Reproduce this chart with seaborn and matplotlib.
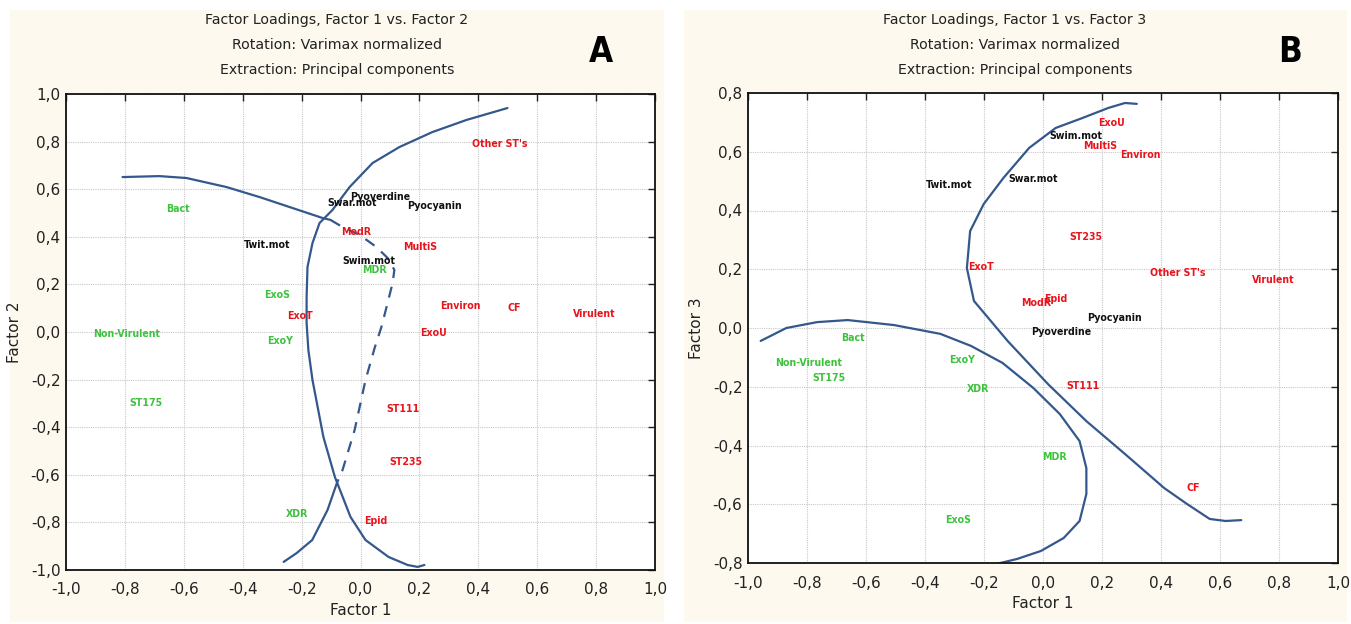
import numpy as np
import pandas as pd
import matplotlib
matplotlib.use("Agg")
import matplotlib.pyplot as plt
import matplotlib.font_manager as fm
import seaborn as sns
from matplotlib.patches import Rectangle

# ---------------- data: panel A (Factor 1 vs Factor 2) ----------------
a_labels = ["Other ST's", "Bact", "Pyoverdine", "Swar.mot", "Pyocyanin", "Twit.mot",
            "ModR", "MultiS", "Swim.mot", "MDR", "ExoS", "Environ", "CF", "Virulent",
            "ExoT", "Non-Virulent", "ExoU", "ExoY", "ST175", "ST111", "ST235", "XDR", "Epid"]
a_f1 = [0.472, -0.621, 0.068, -0.027, 0.251, -0.316, -0.014, 0.204, 0.027, 0.048, -0.285,
        0.340, 0.523, 0.795, -0.207, -0.795, 0.248, -0.272, -0.730, 0.146, 0.153, -0.217, 0.051]
a_f2 = [0.790, 0.517, 0.567, 0.542, 0.529, 0.366, 0.420, 0.357, 0.298, 0.260, 0.155,
        0.109, 0.100, 0.076, 0.067, -0.008, -0.004, -0.038, -0.300, -0.324, -0.546, -0.765, -0.794]
a_group = ["r", "g", "k", "k", "k", "k", "r", "r", "k", "g", "g", "r", "r", "r",
           "r", "g", "r", "g", "g", "r", "r", "g", "r"]

# outline curves (panel A)
a_c1_solid_x = [-0.808, -0.683, -0.591, -0.455, -0.343, -0.231, -0.129, -0.102]
a_c1_solid_y = [0.651, 0.655, 0.647, 0.609, 0.567, 0.521, 0.479, 0.471]
a_c1_dash_x = [-0.102, -0.061, -0.003, 0.054, 0.092, 0.115, 0.109, 0.092, 0.071, 0.048,
               0.017, -0.020, -0.061, -0.080]
a_c1_dash_y = [0.471, 0.441, 0.408, 0.357, 0.311, 0.261, 0.206, 0.122, 0.021, -0.067,
               -0.202, -0.412, -0.580, -0.634]
a_c1_tail_x = [-0.080, -0.112, -0.164, -0.217, -0.261]
a_c1_tail_y = [-0.634, -0.748, -0.874, -0.929, -0.966]
a_c2_x = [0.499, 0.360, 0.244, 0.132, 0.041, -0.037, -0.095, -0.139, -0.163, -0.180, -0.183,
          -0.183, -0.177, -0.163, -0.126, -0.087, -0.034, 0.017, 0.095, 0.160, 0.194, 0.217]
a_c2_y = [0.941, 0.891, 0.840, 0.777, 0.710, 0.609, 0.513, 0.458, 0.374, 0.273, 0.147,
          0.038, -0.076, -0.202, -0.441, -0.609, -0.777, -0.874, -0.945, -0.979, -0.987, -0.979]

# ---------------- data: panel B (Factor 1 vs Factor 3) ----------------
b_labels = ["ExoU", "Swim.mot", "MultiS", "Environ", "Twit.mot", "Swar.mot", "ST235", "ExoT",
            "Other ST's", "Virulent", "ModR", "Epid", "Pyocyanin", "Pyoverdine", "Bact",
            "Non-Virulent", "ST175", "ExoY", "ST111", "XDR", "MDR", "CF", "ExoS"]
b_f1 = [0.231, 0.110, 0.194, 0.331, -0.318, -0.033, 0.144, -0.211, 0.458, 0.779, -0.023,
        0.043, 0.244, 0.060, -0.645, -0.793, -0.726, -0.274, 0.134, -0.221, 0.040, 0.508, -0.288]
b_f3 = [0.698, 0.654, 0.620, 0.589, 0.487, 0.507, 0.310, 0.208, 0.187, 0.163, 0.085,
        0.099, 0.034, -0.014, -0.034, -0.119, -0.170, -0.109, -0.197, -0.208, -0.439, -0.545, -0.654]
b_group = ["r", "k", "r", "r", "k", "k", "r", "r", "r", "r", "r", "r", "k", "k", "g",
           "g", "g", "g", "r", "g", "g", "r", "g"]

b_c1_x = [0.318, 0.278, 0.221, 0.134, 0.043, -0.047, -0.134, -0.201, -0.247, -0.258, -0.234,
          -0.120, 0.017, 0.147, 0.278, 0.411, 0.488, 0.565, 0.619, 0.672]
b_c1_y = [0.763, 0.766, 0.749, 0.715, 0.681, 0.613, 0.511, 0.422, 0.330, 0.204, 0.092,
          -0.044, -0.191, -0.317, -0.429, -0.545, -0.599, -0.650, -0.657, -0.654]
b_c2_x = [-0.957, -0.870, -0.766, -0.662, -0.505, -0.348, -0.244, -0.137, -0.033, 0.057,
          0.124, 0.147, 0.147, 0.124, 0.070, -0.007, -0.087, -0.157]
b_c2_y = [-0.044, 0.000, 0.020, 0.027, 0.010, -0.020, -0.061, -0.119, -0.204, -0.293,
          -0.385, -0.477, -0.565, -0.657, -0.715, -0.759, -0.786, -0.803]

x_ticks = [-1.0, -0.8, -0.6, -0.4, -0.2, 0.0, 0.2, 0.4, 0.6, 0.8, 1.0]
a_y_ticks = [-1.0, -0.8, -0.6, -0.4, -0.2, 0.0, 0.2, 0.4, 0.6, 0.8, 1.0]
b_y_ticks = [-0.8, -0.6, -0.4, -0.2, 0.0, 0.2, 0.4, 0.6, 0.8]

title_lines = ["Factor Loadings, Factor 1 vs. Factor 2",
               "Factor Loadings, Factor 1 vs. Factor 3"]
sub_lines = ["Rotation: Varimax normalized", "Extraction: Principal components"]

# ---------------- styling ----------------
sns.set_theme(style="white")


def find_font(bold):
    """Pick a narrow/condensed face if one is installed."""
    best = None
    for f in fm.fontManager.ttflist:
        name = f.name
        is_bold = (f.weight in ("bold", "heavy")) or (isinstance(f.weight, int) and f.weight >= 700)
        if bold != is_bold or f.style != "normal":
            continue
        narrow = ("Narrow" in name) or ("Condensed" in name) or (f.stretch in ("condensed", "semi-condensed"))
        if not narrow:
            continue
        score = 0
        if "Liberation Sans Narrow" in name:
            score = 3
        elif "DejaVu Sans" in name and "Mono" not in name:
            score = 2
        elif "Serif" not in name and "Mono" not in name:
            score = 1
        if best is None or score > best[0]:
            best = (score, f.fname)
    return best[1] if best else None


reg_file = find_font(False)
bold_file = find_font(True)
CONDENSED = reg_file is not None
if reg_file:
    reg_prop = fm.FontProperties(fname=reg_file)
    plt.rcParams["font.family"] = [reg_prop.get_name(), "DejaVu Sans"]
else:
    plt.rcParams["font.family"] = ["Liberation Sans", "DejaVu Sans"]
bold_prop = fm.FontProperties(fname=bold_file) if bold_file else \
    fm.FontProperties(family=["Liberation Sans", "DejaVu Sans"], weight="bold")

TITLE_FS = 10.2 if CONDENSED else 9.5
LABEL_FS = 7.6 if bold_file else 7.0
TICK_FS = 11 if CONDENSED else 10

CREAM = "#fdf9ee"
LINE = "#34588c"
COLORS = {"r": "#e8141c", "g": "#3cc23c", "k": "#111111"}


def fmt(v):
    return f"{v:.1f}".replace(".", ",")


fig = plt.figure(figsize=(13.51, 6.24), dpi=100)
fig.patch.set_facecolor("white")
W, H = 1351.0, 624.0
fig.patches.append(Rectangle((10 / W, 2 / H), (664 - 10) / W, (614 - 2) / H,
                             transform=fig.transFigure, facecolor=CREAM, edgecolor="none", zorder=-10))
fig.patches.append(Rectangle((684 / W, 2 / H), (1347 - 684) / W, (614 - 2) / H,
                             transform=fig.transFigure, facecolor=CREAM, edgecolor="none", zorder=-10))

axA = fig.add_axes([66 / W, 1 - 570 / H, (655 - 66) / W, (570 - 94) / H])
axB = fig.add_axes([748 / W, 1 - 563 / H, (1338 - 748) / W, (563 - 93) / H])


def draw_curve(ax, xs, ys, dashed=False):
    df = pd.DataFrame({"x": xs, "y": ys})
    sns.lineplot(data=df, x="x", y="y", sort=False, estimator=None, ax=ax, color=LINE,
                 linewidth=1.6, linestyle=(0, (5, 4)) if dashed else "-")


def style_axes(ax, yticks, ylim, ylabel):
    ax.set_facecolor("white")
    ax.set_xlim(-1.0, 1.0)
    ax.set_ylim(*ylim)
    ax.set_xticks(x_ticks)
    ax.set_yticks(yticks)
    ax.set_xticklabels([fmt(v) for v in x_ticks])
    ax.set_yticklabels([fmt(v) for v in yticks])
    ax.grid(True, color="#c8c8c8", linestyle=(0, (1, 1)), linewidth=0.8)
    ax.tick_params(direction="in", length=5, width=1, top=True, right=True,
                   labelsize=TICK_FS, colors="#222222", pad=4)
    ax.tick_params(axis="x", pad=9)
    for s in ax.spines.values():
        s.set_visible(True)
        s.set_color("#111111")
        s.set_linewidth(1.3)
    ax.set_xlabel("Factor 1", fontsize=TICK_FS, labelpad=4, color="#222222")
    ax.set_ylabel(ylabel, fontsize=TICK_FS, labelpad=6, color="#222222")


def put_labels(ax, xs, ys, labels, groups):
    for x, y, t, g in zip(xs, ys, labels, groups):
        ax.text(x, y, t, color=COLORS[g], fontproperties=bold_prop, fontsize=LABEL_FS,
                ha="center", va="center", zorder=5)


# Panel A
draw_curve(axA, a_c1_solid_x, a_c1_solid_y)
draw_curve(axA, a_c1_dash_x, a_c1_dash_y, dashed=True)
draw_curve(axA, a_c1_tail_x, a_c1_tail_y)
draw_curve(axA, a_c2_x, a_c2_y)
put_labels(axA, a_f1, a_f2, a_labels, a_group)
style_axes(axA, a_y_ticks, (-1.0, 1.0), "Factor 2")

# Panel B
draw_curve(axB, b_c1_x, b_c1_y)
draw_curve(axB, b_c2_x, b_c2_y)
put_labels(axB, b_f1, b_f3, b_labels, b_group)
style_axes(axB, b_y_ticks, (-0.8, 0.8), "Factor 3")

# Titles
for cx, title, letter, lx in [(337 / W, title_lines[0], "A", 601 / W),
                              (1015 / W, title_lines[1], "B", 1290 / W)]:
    fig.text(cx, 1 - 20 / H, title, ha="center", va="center", fontsize=TITLE_FS, color="#222222")
    fig.text(cx, 1 - 45 / H, sub_lines[0], ha="center", va="center", fontsize=TITLE_FS, color="#222222")
    fig.text(cx, 1 - 70 / H, sub_lines[1], ha="center", va="center", fontsize=TITLE_FS, color="#222222")
    t = fig.text(lx, 1 - 52 / H, letter, ha="center", va="center",
                 fontproperties=bold_prop, color="black")
    t.set_fontsize(25)

fig.savefig("out.png", dpi=100)
